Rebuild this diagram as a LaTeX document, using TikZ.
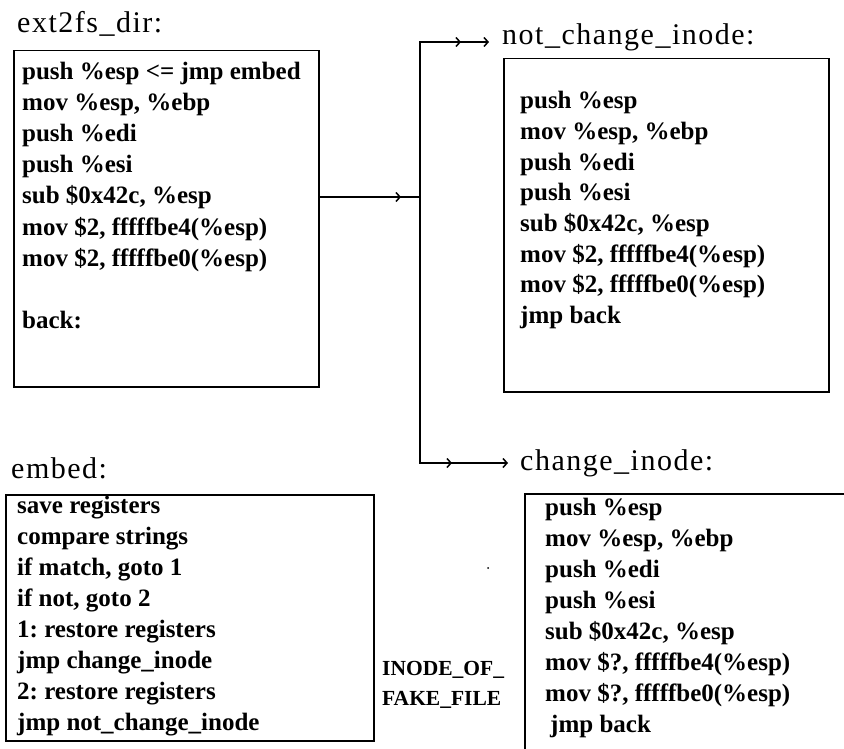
\documentclass[tikz,border=0pt]{standalone}
\usepackage{fontspec}
\setmainfont{Liberation Serif}
\newfontfamily\titlefont[LetterSpace=5]{Liberation Serif}
\usetikzlibrary{arrows.meta}
\frenchspacing
\begin{document}
\begin{tikzpicture}[x=1pt,y=-1pt,
  box/.style={draw, line width=1.5pt, rectangle, inner sep=0pt, anchor=north west},
  ttl/.style={font=\titlefont\fontsize{30}{36}\selectfont, inner sep=0pt, anchor=base west},
  code/.style={font=\frenchspacing\bfseries\fontsize{25}{31}\selectfont, inner sep=0pt, anchor=base west},
  note/.style={font=\bfseries\fontsize{21.5}{26}\selectfont, inner sep=0pt, anchor=base west},
  conn/.style={line width=1.5pt, line cap=rect},
  tip/.style={line width=1.5pt, -{Straight Barb[length=4pt,width=9pt]}}]
\clip (0,0) rectangle (844,749);
\fill[white] (0,0) rectangle (844,749);

% titles
\node[ttl] (t1) at (17,33) {ext2fs\_dir:};
\node[ttl] (t2) at (502,45) {not\_change\_inode:};
\node[ttl] (t3) at (520,470) {change\_inode:};
\node[ttl] (t4) at (11,478) {embed:};

% boxes
\node[box, minimum width=305pt, minimum height=336pt] (ext) at (13,50) {};
\node[box, minimum width=325pt, minimum height=333pt] (nci) at (503,58) {};
\node[box, minimum width=368pt, minimum height=246pt] (emb) at (5,494) {};
\node[box, minimum width=340pt, minimum height=280pt] (ci) at (524,493) {};

% ext2fs_dir code
\foreach \t [count=\i] in {{push \%esp <= jmp embed},{mov \%esp, \%ebp},{push \%edi},{push \%esi},{sub \$0x42c, \%esp},{mov \$2, fffffbe4(\%esp)},{mov \$2, fffffbe0(\%esp)},{},{back:}}
  \node[code] (a\i) at (22,{80+31*(\i-1)}) {\t};

% not_change_inode code
\foreach \t [count=\i] in {{push \%esp},{mov \%esp, \%ebp},{push \%edi},{push \%esi},{sub \$0x42c, \%esp},{mov \$2, fffffbe4(\%esp)},{mov \$2, fffffbe0(\%esp)},{jmp back}}
  \node[code] (b\i) at (520,{109+30.6*(\i-1)}) {\t};

% embed code
\foreach \t [count=\i] in {{save registers},{compare strings},{if match, goto 1},{if not, goto 2},{1: restore registers},{jmp change\_inode},{2: restore registers},{jmp not\_change\_inode}}
  \node[code] (c\i) at (17,{513+31*(\i-1)}) {\t};

% change_inode code
\foreach \t [count=\i] in {{push \%esp},{mov \%esp, \%ebp},{push \%edi},{push \%esi},{sub \$0x42c, \%esp},{mov \$?, fffffbe4(\%esp)},{mov \$?, fffffbe0(\%esp)},{\hspace{5pt}jmp back}}
  \node[code] (d\i) at (545,{515+31*(\i-1)}) {\t};

% label between boxes
\node[note] (n1) at (382,675) {INODE\_OF\_};
\node[note] (n2) at (382,705) {FAKE\_FILE};

% stray dot
\fill (488,568) circle (1pt);

% connectors
\coordinate (j)  at (420,197);
\coordinate (jt) at (420,42);
\coordinate (jb) at (420,463);
\coordinate (m0) at (401,197);
\coordinate (m1) at (461,42);
\coordinate (m2) at (452,463);
\coordinate (e1) at (489,42);
\coordinate (e2) at (508,463);

\draw[tip] (ext.east |- j) -- (m0);
\draw[conn] (m0) -- (j);
\draw[conn] (m1) -- (jt) -- (jb) -- (m2);
\draw[tip] (jt) -- (m1);
\draw[tip] (m1) -- (e1);
\draw[tip] (jb) -- (m2);
\draw[tip] (m2) -- (e2);
\end{tikzpicture}
\end{document}
